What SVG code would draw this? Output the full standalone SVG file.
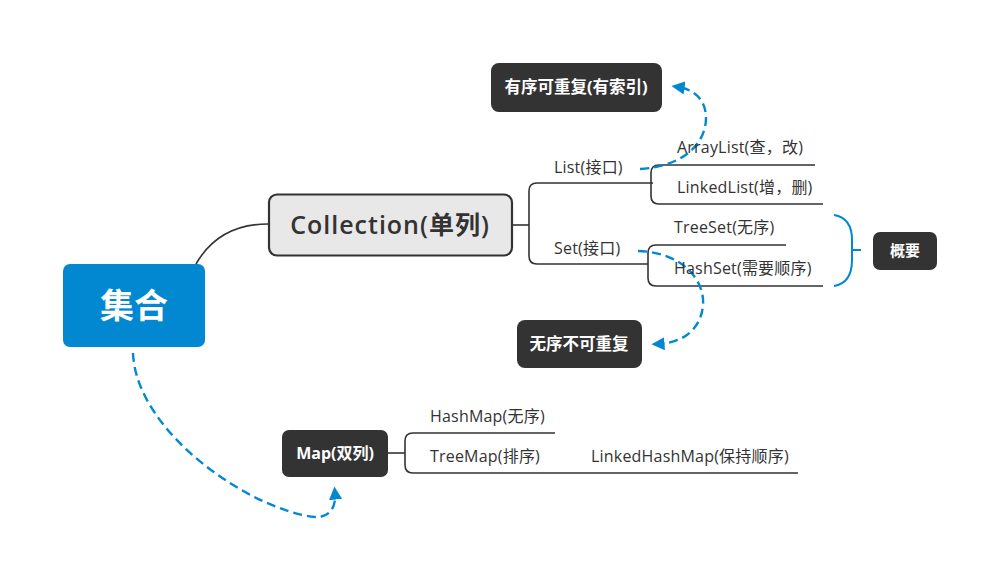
<svg xmlns="http://www.w3.org/2000/svg" width="1000" height="583" viewBox="0 0 1000 583">
<defs>
<style>
.t{font-family:"Open Sans","Noto Sans CJK SC",sans-serif;font-size:16px;letter-spacing:0.2px;fill:#333}
.w{font-family:"Open Sans","Noto Sans CJK SC",sans-serif;font-weight:bold;fill:#fff;text-anchor:middle}
.ln{fill:none;stroke:#333;stroke-width:1.6}
.dash{fill:none;stroke:#0288D1;stroke-width:2.4;stroke-dasharray:9 5}
.dark{fill:#333}
</style>
<marker id="ah" viewBox="0 0 10 10" refX="5" refY="5" markerWidth="5.5" markerHeight="5.5" orient="auto">
<path d="M0,0 L10,5 L0,10 z" fill="#0288D1"/>
</marker>
</defs>
<rect width="1000" height="583" fill="#fff"/>
<g id="connectors">
<path class="ln" d="M196,264 C212,236 236,224 268,224" stroke-width="2.2"/>
<path class="ln" d="M512,225 L529,225"/>
<path class="ln" d="M653,183 L537,183 Q529,183 529,191 L529,256 Q529,264 537,264 L648,264"/>
<path class="ln" d="M815,165 L659,165 Q651,165 651,173 L651,196 Q651,204 659,204 L823,204"/>
<path class="ln" d="M786,245 L656,245 Q648,245 648,253 L648,278 Q648,286 656,286 L823,286"/>
<path class="ln" d="M388,453 L405,453"/>
<path class="ln" d="M555,433 L413,433 Q405,433 405,441 L405,465 Q405,473 413,473 L798,473"/>
<path d="M834,215 Q852,218 852,240 L852,260 Q852,283 834,286 M852,250 L861,250" fill="none" stroke="#0288D1" stroke-width="2"/>
<path class="dash" d="M640,169 C688,166 706,140 706,118 C706,98 692,89 678,87" marker-end="url(#ah)"/>
<path class="dash" d="M638,251 C682,252 705,280 703,305 C701,330 682,343 658,344" marker-end="url(#ah)"/>
<path class="dash" d="M133,353 C136,432 250,510 315,517 C332,518 336,504 335,493" marker-end="url(#ah)"/>
</g>
<g id="root">
<rect x="63" y="264" width="142" height="83" rx="7" fill="#0288D1"/>
<text class="w" x="134" y="318" style="font-size:34px">集合</text>
</g>
<g id="collection">
<rect x="269" y="194.5" width="243" height="61" rx="8" fill="#e8e8e8" stroke="#333" stroke-width="2.2"/>
<text class="t" x="390" y="234" style="font-size:25px;letter-spacing:1px;font-weight:600" text-anchor="middle">Collection(单列)</text>
</g>
<g id="list"><text class="t" x="554" y="173">List(接口)</text></g>
<g id="set"><text class="t" x="554" y="254">Set(接口)</text></g>
<g id="arraylist"><text class="t" x="677" y="153">ArrayList(查，改)</text></g>
<g id="linkedlist"><text class="t" x="677" y="193">LinkedList(增，删)</text></g>
<g id="treeset"><text class="t" x="674" y="233">TreeSet(无序)</text></g>
<g id="hashset"><text class="t" x="674" y="274">HashSet(需要顺序)</text></g>
<g id="summary">
<rect class="dark" x="873" y="232" width="64" height="38" rx="7"/>
<text class="w" x="905" y="256" style="font-size:15px">概要</text>
</g>
<g id="ordered">
<rect class="dark" x="491" y="63" width="171" height="49" rx="8"/>
<text class="w" x="576" y="93" style="font-size:16.5px">有序可重复(有索引)</text>
</g>
<g id="unordered">
<rect class="dark" x="517" y="320" width="125" height="48" rx="8"/>
<text class="w" x="579" y="350" style="font-size:16.5px">无序不可重复</text>
</g>
<g id="map">
<rect class="dark" x="282" y="430" width="106" height="47" rx="7"/>
<text class="w" x="335" y="459" style="font-size:16px">Map(双列)</text>
</g>
<g id="hashmap"><text class="t" x="430" y="422">HashMap(无序)</text></g>
<g id="treemap"><text class="t" x="430" y="462">TreeMap(排序)</text></g>
<g id="linkedhashmap"><text class="t" x="591" y="462">LinkedHashMap(保持顺序)</text></g>
</svg>
